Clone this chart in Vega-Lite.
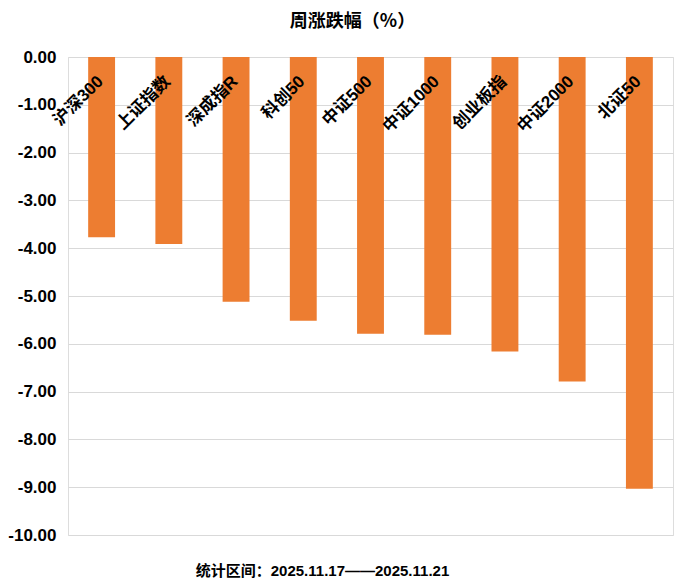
{
  "$schema": "https://vega.github.io/schema/vega-lite/v6.json",
  "autosize": {"type": "none"},
  "width": 605,
  "height": 478,
  "padding": {"left": 68, "top": 57, "right": 24, "bottom": 50},
  "background": "white",
  "title": {
    "text": "周涨跌幅（%）",
    "font": "Noto Sans CJK SC",
    "fontSize": 18,
    "fontWeight": "bold",
    "color": "#000000",
    "offset": 17,
    "dx": -18
  },
  "data": {
    "values": [
      {"name": "沪深300", "value": -3.77},
      {"name": "上证指数", "value": -3.91},
      {"name": "深成指R", "value": -5.12},
      {"name": "科创50", "value": -5.52},
      {"name": "中证500", "value": -5.79},
      {"name": "中证1000", "value": -5.81},
      {"name": "创业板指", "value": -6.16},
      {"name": "中证2000", "value": -6.79},
      {"name": "北证50", "value": -9.03}
    ]
  },
  "encoding": {
    "x": {
      "field": "name",
      "type": "nominal",
      "sort": null,
      "scale": {"paddingInner": 0.6, "paddingOuter": 0.3},
      "axis": {
        "labels": false,
        "ticks": false,
        "domain": false,
        "title": "统计区间：2025.11.17——2025.11.21",
        "titleFont": "Liberation Sans, Noto Sans CJK SC",
        "titleFontSize": 15,
        "titleFontWeight": "bold",
        "titleColor": "#000000",
        "titleX": 254,
        "titleY": 35,
        "titleAlign": "center",
        "titleBaseline": "middle"
      }
    }
  },
  "layer": [
    {
      "mark": {"type": "bar", "color": "#ED7D31"},
      "encoding": {
        "y": {
          "field": "value",
          "type": "quantitative",
          "scale": {"domain": [-10, 0], "nice": false},
          "axis": {
            "title": null,
            "values": [0, -1, -2, -3, -4, -5, -6, -7, -8, -9, -10],
            "labelExpr": "replace(format(datum.value, '.2f'), '\u2212', '-')",
            "labelFont": "Liberation Sans",
            "labelFontSize": 17,
            "labelFontWeight": "bold",
            "labelColor": "#000000",
            "labelPadding": 12,
            "ticks": false,
            "domain": false,
            "grid": true,
            "gridColor": "#D9D9D9",
            "gridWidth": 1
          }
        }
      }
    },
    {
      "mark": {
        "type": "text",
        "angle": -45,
        "align": "right",
        "baseline": "middle",
        "yOffset": 22,
        "xOffset": -1,
        "font": "Liberation Sans, Noto Sans CJK SC",
        "fontSize": 17,
        "fontWeight": "bold",
        "color": "#000000"
      },
      "encoding": {
        "y": {"datum": 0, "type": "quantitative"},
        "text": {"field": "name", "type": "nominal"}
      }
    }
  ]
}
